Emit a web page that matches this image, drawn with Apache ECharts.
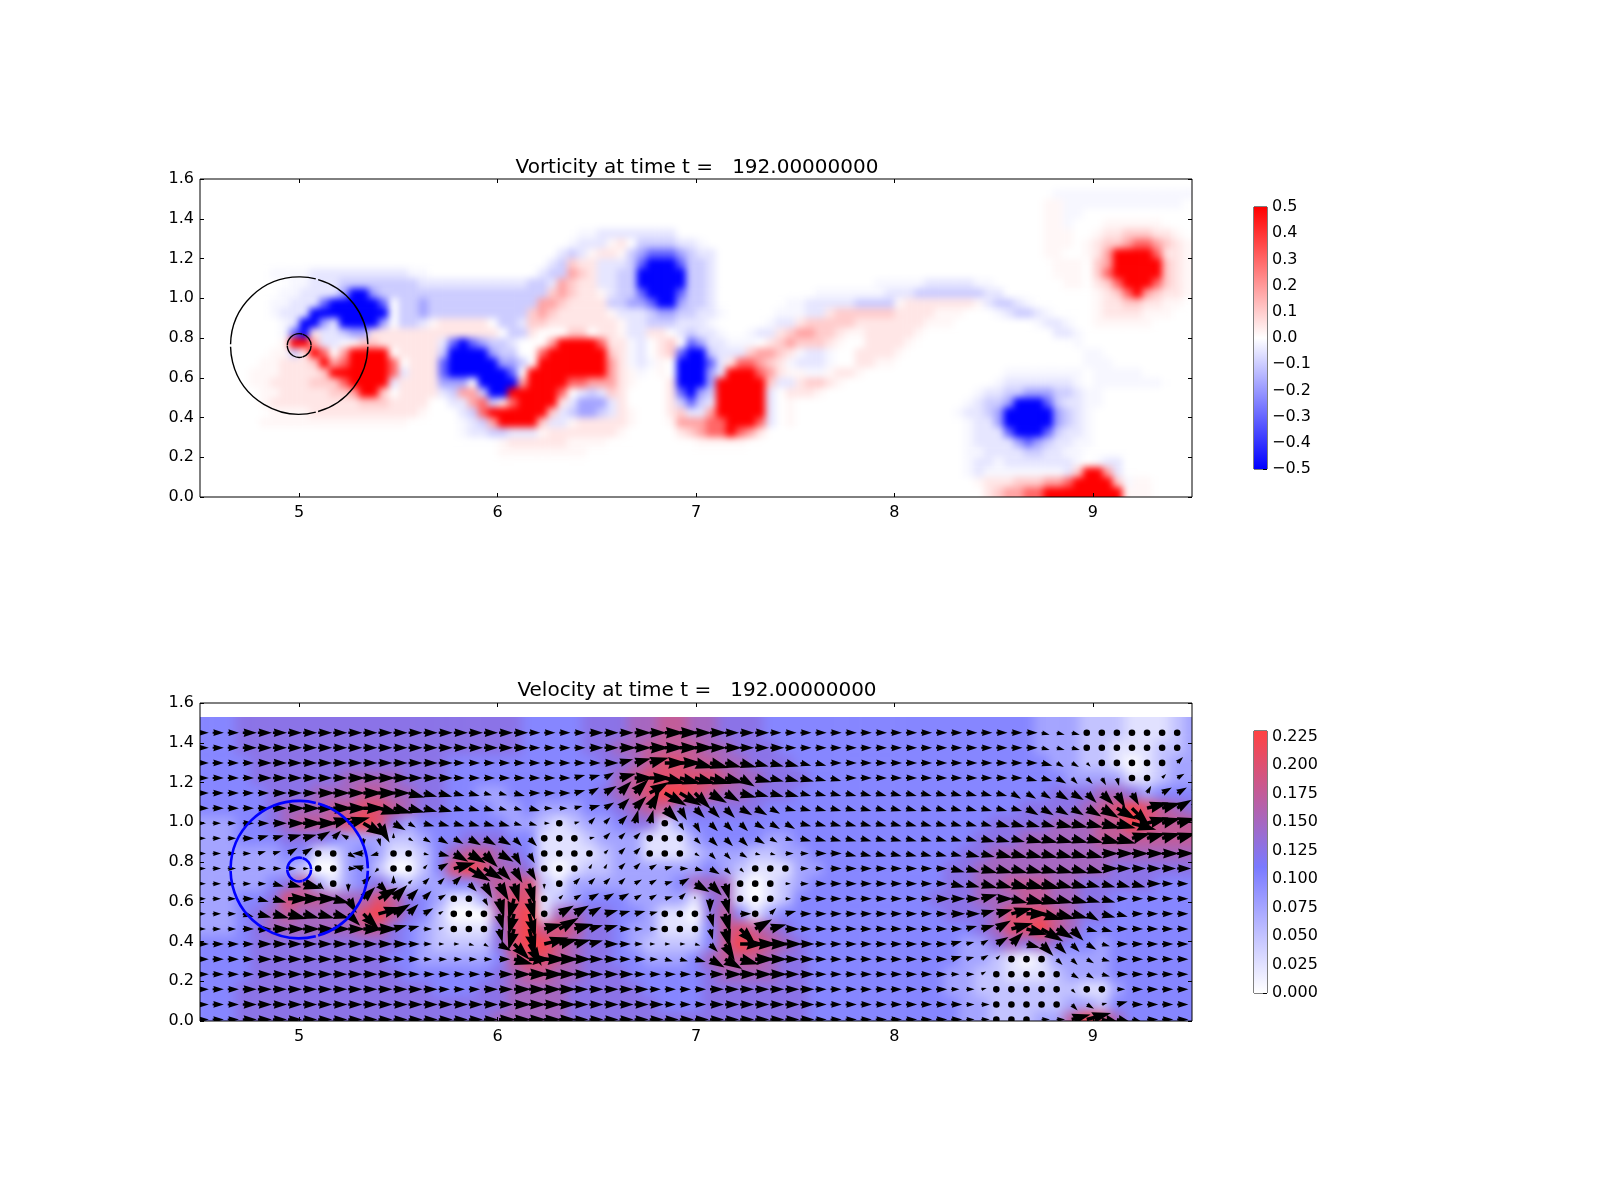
<!DOCTYPE html>
<html>
<head>
<meta charset="utf-8">
<title>Vorticity and velocity</title>
<script src="https://cdn.jsdelivr.net/npm/echarts@6/dist/echarts.min.js"></script>
<style>
html, body { margin: 0; padding: 0; background: #fff; }
#Chart { width: 1600px; height: 1200px; }
</style>
</head>
<body>
<div id="Chart"></div>
<script>
var vorticityTitle = 'Vorticity at time t =   192.00000000';
var velocityTitle = 'Velocity at time t =   192.00000000';
var xTicks = [5, 6, 7, 8, 9];
var yTicks = [0, 0.2, 0.4, 0.6, 0.8, 1.0, 1.2, 1.4, 1.6];
var vorticityTicks = [-0.5, -0.4, -0.3, -0.2, -0.1, 0, 0.1, 0.2, 0.3, 0.4, 0.5];
var speedTicks = [0, 0.025, 0.05, 0.075, 0.1, 0.125, 0.15, 0.175, 0.2, 0.225];

// cylinder and outer ring: x, y, radius
var circles = [[5, 0.762, 0.346], [5, 0.762, 0.06]];

// vorticity levels, one letter per cell, cells are 0.05 x 0.05, top row first
var vorticityLevels = {'.': 0, '+': 0.015, '1': 0.05, '2': 0.1, '3': 0.18, '4': 0.3, '5': 0.5,
    '-': -0.015, 'a': -0.05, 'b': -0.1, 'c': -0.18, 'd': -0.3, 'e': -0.5};
var vorticityRows = [
'.......... .......... .......... .......... .......... .......... .......... .......... .......... ..........',
'.......... .......... .......... .......... .......... .......... .......... .......... ......---- ----------',
'.......... .......... .......... .......... .......... .......... .......... .......... .....++--- ---------.',
'.......... .......... .......... .......... .......... .......... .......... .......... .....++--. ..........',
'.......... .......... .......... .......... .......... .......... .......... .......... .....++-.. .++++++...',
'.......... .......... .......... ........-- aaaaaaaa.. .......... .......... .......... .....+++.. +1122211+.',
'.......... .......... .......... .......-aa a+1.bbbbaa -......... .......... .......... .....+++.+ 122344321+',
'.......... .......... .......... ......aba+ 11+bcdddcb aa........ .......... .......... .....++..+ 135555411+',
'.......... .......... .......... .....ab211 aaabdeeedb ba........ .......... .......... ......+++. 235555521+',
'.......--- -aaaaaaaaa a--....... ....abb321 aabbeeeeeb ba........ .......... .......... ......+++. 245555521+',
'.........- -aaabbbbbb bbaaaaaaaa aaabba3211 aabbeeeeeb ba........ ........-- ---aaaaa-- .......++. 124555421+',
'........-- aaaaceecbb bbbbbbbbbb bbbbb23211 +abbdeeedb ba........ ..-------a aabbbbbbba a......... +12453211+',
'.......--a aadeeeeed. bbcbbbbbbb bbbb332111 1bbccdeecb ba.......- -aaaaabbbb +1111111+a bba-...... +112211++.',
'.......-aa aeeeeeeee. bbcbbbbbbb bbb2321111 1+aaabccbb aa-.....-- -aa1222222 1111+++... -abba-.... +1111+++..',
'........-a eecaeeeec. bba+11111. bba2211111 11+aabbbaa a-.....-aa 1222221111 111+++.... ....-aa-.. ++++++....',
'........-d e1aabcc111 1111111111 .bb1...22. 11+aa11.ab aa-..-aa12 33221++111 11+....... ......aa-. ..........',
'........+5 53aa-+2211 1111adedcb ba...35555 411-a.12.d caa---.123 2221+..111 1+........ ........-. ..........',
'.......++b 154.35555. 1111beeeec bb..455555 521-a.12de ebaaa23321 -aa-..1111 +......... .........- -.........',
'......++11 1253455554 .111deeeee ccb.555555 531-a-+.ee eda144321- aaa-..11++ .......... .........- --........',
'.....+++11 1125555554 a111deeeee ed.5555555 531+-.+.ee eca555431+ +--+11+... .......... .--------. -----.....',
'.....++111 122245555a 1111ccc.ee ee35555443 331+...1ee ec555552aa 1221+..... .......... -aaaaaaa-. -------...',
'......++11 111223552. 1111ab33be e555554.ab a21....1de cb55555a.1 11+....... ........-a abbcccbba- -.........',
'......+111 1111112221 111..aa34b 1455551acc ca1....1bd ba55555a.+ .......... .......-ab bceeedbaa- -.........',
'.......+++ +111111111 11+...ab45 555552abcc ba1+...12a a355555a.+ .......... ......-aab ceeeeecba- ..........',
'......++++ ++++++++++ +.....-ab3 55552aa+11 111+...+33 3445554a.+ .......... .......-aa ceeeeecba- ..........',
'.......... .......... ......-aab baaa+11111 11+.....12 3445431... .......... .......-aa adeeedbaa- ..........',
'.......... .......... .......... +111111+++ +......... +++++..... .......... .......-aa aacdcbaa-- ..........',
'.......... .......... .......... +++++++++. .......... .......... .......... .......--a aaabbaa--. ..........',
'.......... .......... .......... .......... .......... .......... .......... .......-aa -aaaaaaa-. -aa.......',
'.......... .......... .......... .......... .......... .......... .......... .......-a- -------a25 53a.......',
'.......... .......... .......... .......... .......... .......... .......... ........+1 1122233455 552-++....',
'.......... .......... .......... .......... .......... .......... .......... .........1 2334455555 555+++....'
];

// speed at each arrow, digit = index into speedLevels, top row first
var speedLevels = [0, 0.025, 0.05, 0.075, 0.1, 0.125, 0.15, 0.175, 0.2, 0.225];
var speedRows = [
'4445555555 5555555555 5544445556 6776655544 4444444444 4444443332 2211123',
'4445555555 5555555555 5544445566 7777665554 4444444444 4444443332 2111223',
'4444555555 5555555444 4444444556 7887766555 4444444444 4444444332 2101233',
'4444555555 6666555444 4444444467 8888876655 5444444444 4444444433 3311233',
'4444455566 6776655443 3444444567 8998766555 4444444444 4444444555 6653444',
'4444456667 7887655444 3343334456 7755555544 4444444444 4444455556 7898765',
'3334456777 8985344444 4332123345 5134444444 4444444444 4445555666 7798777',
'3334445554 3332234455 5441112333 1113444433 4444444444 4455566666 7777777',
'3333334411 3431124677 6541111233 1112333223 3444444444 4556666666 6666666',
'3333333200 3420024898 6651012233 3333432111 3344444444 5566666666 6555555',
'3333345731 3453233446 7782133333 3346661012 3444444444 5566777665 5555444',
'3334458776 6687543113 7881234443 3331561012 4444444445 5566677665 5444444',
'3334567666 6897542000 6891665544 3110574134 4444444444 5556888765 5444444',
'3334566666 6775432111 5897875543 3111478765 4444444444 4456889764 4444444',
'4444555555 5555432222 5899765543 2222479876 5444444444 4335656544 3444444',
'4444555555 5554433333 4788765544 3334677765 5444444444 4332101333 3444444',
'4444555555 5555444444 5677665554 4444566665 5444444444 3322111233 3444444',
'4445555555 5555554445 5666655555 4444555555 5444444444 3322222221 1344444',
'4445555555 5555555555 5666655555 5444555555 5444444444 4332222233 2444444',
'4445555555 5555555555 6666655555 5555555555 5444444444 4332223379 8644444'
];

// arrow direction, letter = 15 degree steps from east going anticlockwise, dot = no arrow head
var angleLetters = 'ABCDEFGHIJKLMNOPQRSTUVWX';
var angleRows = [
'AAAAAAAAAA AAAAAAAAAA AAAAAAAAAA AAAAAAAAAA AAAAAAAAAA AAAAAAXXX. ......A',
'AAAAAAAAAA AAAAAAAAAA AAAAAAAAAA AAAAAAAAAA AAAAAAAAAA AAAAAAXXX. ......A',
'AAAAAAAAAA AAAAAAAAAA AAAAAAAABB BAAXXXXXXX XXAAAAAAAA AAAAAAXWWV .....DD',
'AAAAAAAAAA AAAAAAAAAA AAAAABBCBA AXXXXXWXXX XXXAAAAAAA AAAAAXXWVV UT..DCC',
'AAAAAAAAAA AAAAXXXXXX XXAAABCCDD CWWVWWXXXX XXXXXXXXXX XXXXWWWWWV VUUECCC',
'AAAAAAAAAA AAXXXXXXXX XXXAABBCDD EVUVVVWWWX XXXXXXXXXX XXXXXWWWWW WWVBBCC',
'AAAAAAAAAB BWUWWXXXXX XXXA.BDDDF F.UUVVVWWW XXXXXXXXXX XXXXXXXXXX XXXBBBA',
'AAAABBBBCD KSTGWWWWWW WVV...BDDD ...VVVVWWX XXXXXXXXXX XXXXXXXXXX XXBBBBB',
'AAAABBCC.. WMN..XXWWV WUU....DDD ...WVVWXXA AAAXXXXXXX XXXXXXXXXX AAAAAAA',
'AAAAAAAA.. ALP..DCBWW VUU...EEDD CBAXWVV... AAAAAAAAAA XXXXXXXXXX AAAAAAA',
'AAAAAXXXV. SDVGDDDDVU UTTS.DDDDC CBCWVT...A AAAAAAAAAA XXXXXXXXXX XXXAAAA',
'AAAAXXAAAX UDCDDDC..U TRT.DCCCCC CBDGST...A AAAAAAAAAA AABAXXXXXX XAAAAAA',
'AAAXXXXXXX VVBCDCC... TRT.CCCBBB B...TTA.DB AAAAAAAAAA AABBBAXXXW XXAAAAA',
'AAAAAAAAAA AAABBAB... TRTBCBBBAA A...TTVCBA AAAAAAAAAA ABBCBXWWVX XAAAAAA',
'AAAAAAAAAA AAAAAAAAXW WVUBBBBAAA AAAXVUAAAA AAAAAAAAAA BBCCDXVVVW XAAAAAA',
'AAAAAAAAAA AAAAAAAAAA AXAAAAAAAA AXXXWWXAAA AAAAAAAAAA BBCD...VVW XAAAAAA',
'AAAAAAAAAA AAAAAAAAAA AAAAAAAAAA AAAAAAAAAA AAAAAAAAAA AAC.....WW XAAAAAA',
'AAAAAAAAAA AAAAAAAAAA AAAAAAAAAA AAAAAAAAAA AAAAAAAAAA AAB.....V. .AAAAAA',
'AAAAAAAAAA AAAAAAAAAA AAAAAAAAAA AAAAAAAAAA AAAAAAAAAA AAA.....VW BBAAAAA',
'AAAAAAAAAA AAAAAAAAAA AAAAAAAAAA AAAAAAAAAA AAAAAAAAAA AAA...AABB XXXAAAA'
];

var Chart = echarts.init(document.getElementById('Chart'));

var vorticityData = [];
vorticityRows.forEach(function (row, j) {
    row.replace(/ /g, '').split('').forEach(function (c, i) {
        vorticityData.push([4.525 + 0.05 * i, 1.575 - 0.05 * j, vorticityLevels[c] || 0, i, j]);
    });
});

var arrowData = [];
speedRows.forEach(function (row, j) {
    var angles = angleRows[j].replace(/ /g, '');
    row.replace(/ /g, '').split('').forEach(function (c, i) {
        var letter = angles.charAt(i);
        var angle = letter === '.' ? -1 : angleLetters.indexOf(letter) * 15;
        arrowData.push([4.4879 + 0.07596 * i, 1.4506 - 0.07596 * j, speedLevels[+c], angle, i, j]);
    });
});

function vorticityColor(v) {
    var t = Math.min(1, Math.abs(v) / 0.5);
    var k = Math.round(255 * (1 - t));
    return v > 0 ? 'rgb(255,' + k + ',' + k + ')' : 'rgb(' + k + ',' + k + ',255)';
}

var speedStops = [[0, [255, 255, 255]], [0.11, [122, 122, 255]], [0.23, [255, 66, 66]]];
function speedColor(v) {
    var a = v <= speedStops[1][0] ? speedStops[0] : speedStops[1];
    var b = v <= speedStops[1][0] ? speedStops[1] : speedStops[2];
    var t = (v - a[0]) / (b[0] - a[0]);
    var out = [0, 1, 2].map(function (n) { return Math.round(a[1][n] + (b[1][n] - a[1][n]) * t); });
    return 'rgb(' + out.join(',') + ')';
}

function renderVorticity(params, api) {
    var x = api.value(0), y = api.value(1), i = api.value(3), j = api.value(4);
    // edge cells run past the frame so the blur does not fade at the border
    var p0 = api.coord([x - 0.025 - (i === 0 ? 0.2 : 0), y + 0.025 + (j === 0 ? 0.2 : 0)]);
    var p1 = api.coord([x + 0.025 + (i === 99 ? 0.2 : 0), y - 0.025 - (j === 31 ? 0.2 : 0)]);
    return {
        type: 'rect',
        shape: {x: p0[0], y: p0[1], width: p1[0] - p0[0] + 0.5, height: p1[1] - p0[1] + 0.5},
        style: {fill: vorticityColor(api.value(2))}
    };
}

function renderSpeed(params, api) {
    var x = api.value(0), y = api.value(1), i = api.value(4), j = api.value(5);
    var p0 = api.coord([x - 0.038 - (i === 0 ? 0.2 : 0), y + 0.038 + (j === 0 ? 0.2 : 0)]);
    var p1 = api.coord([x + 0.038 + (i === 66 ? 0.2 : 0), y - 0.038 - (j === 19 ? 0.2 : 0)]);
    return {
        type: 'rect',
        shape: {x: p0[0], y: p0[1], width: p1[0] - p0[0] + 0.5, height: p1[1] - p0[1] + 0.5},
        style: {fill: speedColor(api.value(2))}
    };
}

function renderArrow(params, api) {
    var p = api.coord([api.value(0), api.value(1)]);
    var angle = api.value(3);
    if (angle < 0) {
        return {type: 'circle', shape: {cx: p[0], cy: p[1], r: 3.3}, style: {fill: '#000'}};
    }
    var L = api.value(2) * 112;
    var barb = Math.min(5.8, 0.3 * L);
    var shaft = 0.3 * barb;
    var neck = Math.max(0.06 * L, L - 19);
    var a = angle * Math.PI / 180;
    var c = Math.cos(a), s = Math.sin(a);
    var pts = [[0, shaft], [neck + 0.06 * L, shaft], [neck, barb], [L, 0], [neck, -barb], [neck + 0.06 * L, -shaft], [0, -shaft]];
    return {
        type: 'polygon',
        shape: {points: pts.map(function (q) {
            return [p[0] + q[0] * c + q[1] * s, p[1] - q[0] * s + q[1] * c];
        })},
        style: {fill: '#000'}
    };
}

function renderCircle(color, width) {
    return function (params, api) {
        var p = api.coord([api.value(0), api.value(1)]);
        var r = api.size([api.value(2), 0])[0];
        var spans = [[1, 74], [76, 179], [181, 284], [286, 359]];
        return {
            type: 'group',
            children: spans.map(function (d) {
                return {
                    type: 'arc',
                    shape: {cx: p[0], cy: p[1], r: r, startAngle: d[0] * Math.PI / 180, endAngle: d[1] * Math.PI / 180, clockwise: true},
                    style: {fill: 'none', stroke: color, lineWidth: width}
                };
            })
        };
    };
}

function renderBar(stops) {
    return function (params, api) {
        var p0 = api.coord([0, api.value(1)]);
        var p1 = api.coord([1, api.value(0)]);
        return {
            type: 'rect',
            shape: {x: p0[0], y: p0[1], width: p1[0] - p0[0], height: p1[1] - p0[1]},
            style: {fill: {type: 'linear', x: 0, y: 0, x2: 0, y2: 1, colorStops: stops}}
        };
    };
}

var labelFont = {color: '#000', fontFamily: 'DejaVu Sans', fontSize: 16};

function xAxisOf(grid, position, min, max, ticks, shown) {
    return {
        type: 'value', gridIndex: grid, position: position, min: min, max: max, zlevel: 2,
        axisLine: {show: false, onZero: false},
        axisTick: {show: true, inside: true, length: 4, lineStyle: {color: '#000', width: 1}, customValues: ticks},
        axisLabel: Object.assign({show: !!shown, margin: 8, customValues: ticks, formatter: function (v) { return String(v); }}, labelFont),
        splitLine: {show: false}
    };
}

function yAxisOf(grid, position, min, max, ticks, shown, digits, margin) {
    return {
        type: 'value', gridIndex: grid, position: position, min: min, max: max, zlevel: 2,
        axisLine: {show: false, onZero: false},
        axisTick: {show: true, inside: true, length: 4, lineStyle: {color: '#000', width: 1}, customValues: ticks},
        axisLabel: Object.assign({
            show: !!shown, margin: margin, customValues: ticks,
            formatter: function (v) { return v.toFixed(digits).replace('-', '\u2212'); }
        }, labelFont),
        splitLine: {show: false}
    };
}

function gridOf(left, top, width, height) {
    return {left: left, top: top, width: width, height: height, show: true, borderColor: '#000', borderWidth: 1, backgroundColor: 'transparent', zlevel: 2, containLabel: false};
}

var titleStyle = {color: '#000', fontFamily: 'DejaVu Sans', fontWeight: 'normal', fontSize: 20};

var option = {
    animation: false,
    backgroundColor: 'transparent',
    title: [
        {text: vorticityTitle, left: 692, top: 153, textAlign: 'center', zlevel: 2, textStyle: titleStyle},
        {text: velocityTitle, left: 692, top: 676, textAlign: 'center', zlevel: 2, textStyle: titleStyle}
    ],
    grid: [
        gridOf(200, 179, 992, 318),
        gridOf(200, 703, 992, 318),
        gridOf(1254, 207, 13, 262),
        gridOf(1254, 731, 13, 262)
    ],
    xAxis: [
        xAxisOf(0, 'bottom', 4.5, 9.5, xTicks, true),
        xAxisOf(0, 'top', 4.5, 9.5, xTicks, false),
        xAxisOf(1, 'bottom', 4.5, 9.5, xTicks, true),
        xAxisOf(1, 'top', 4.5, 9.5, xTicks, false),
        {type: 'value', gridIndex: 2, min: 0, max: 1, show: false},
        {type: 'value', gridIndex: 3, min: 0, max: 1, show: false}
    ],
    yAxis: [
        yAxisOf(0, 'left', 0, 1.6, yTicks, true, 1, 6),
        yAxisOf(0, 'right', 0, 1.6, yTicks, false, 1, 6),
        yAxisOf(1, 'left', 0, 1.6, yTicks, true, 1, 6),
        yAxisOf(1, 'right', 0, 1.6, yTicks, false, 1, 6),
        yAxisOf(2, 'right', -0.5, 0.5, vorticityTicks, true, 1, 5),
        yAxisOf(3, 'right', 0, 0.2297, speedTicks, true, 3, 5)
    ],
    series: [
        {type: 'custom', xAxisIndex: 0, yAxisIndex: 0, zlevel: 0, clip: false, renderItem: renderVorticity, data: vorticityData, silent: true, progressive: 0},
        {type: 'custom', xAxisIndex: 2, yAxisIndex: 2, zlevel: 1, clip: false, renderItem: renderSpeed, data: arrowData, silent: true, progressive: 0},
        {type: 'custom', xAxisIndex: 2, yAxisIndex: 2, zlevel: 2, clip: true, renderItem: renderArrow, data: arrowData, silent: true, progressive: 0},
        {type: 'custom', xAxisIndex: 0, yAxisIndex: 0, zlevel: 2, renderItem: renderCircle('#000', 1.4), data: circles, silent: true},
        {type: 'custom', xAxisIndex: 2, yAxisIndex: 2, zlevel: 2, renderItem: renderCircle('#0000ff', 2.6), data: circles, silent: true},
        {type: 'custom', xAxisIndex: 4, yAxisIndex: 4, zlevel: 2, renderItem: renderBar([
            {offset: 0, color: '#ff0000'}, {offset: 0.5, color: '#ffffff'}, {offset: 1, color: '#0000ff'}
        ]), data: [[-0.5, 0.5]], silent: true},
        {type: 'custom', xAxisIndex: 5, yAxisIndex: 5, zlevel: 2, renderItem: renderBar([
            {offset: 0, color: '#ff4242'}, {offset: 0.52, color: '#7a7aff'}, {offset: 1, color: '#ffffff'}
        ]), data: [[0, 0.2297]], silent: true}
    ]
};

Chart.setOption(option);

// smooth the two colour fields like imshow does and cut them at the frame
var fieldLayers = [
    {id: 'zr_0', blur: 3.5, clip: 'inset(179px 408px 703px 200px)'},
    {id: 'zr_1', blur: 5.5, clip: 'inset(717.5px 408px 179px 200px)'}
];
fieldLayers.forEach(function (f) {
    var layer = Chart.getDom().querySelector('canvas[data-zr-dom-id="' + f.id + '"]');
    if (layer) {
        layer.style.filter = 'blur(' + f.blur + 'px)';
        layer.style.clipPath = f.clip;
    }
});
</script>
</body>
</html>
